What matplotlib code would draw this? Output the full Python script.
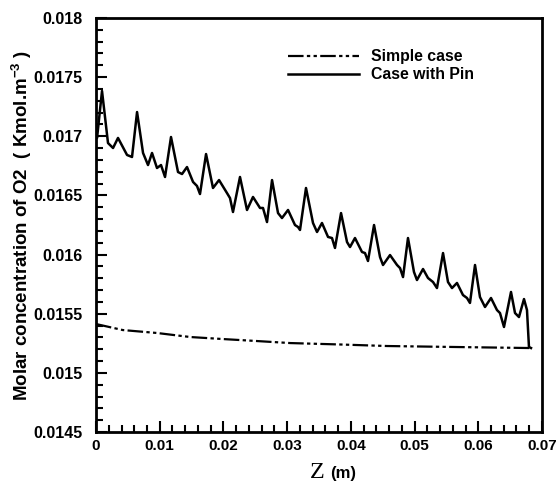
import matplotlib
matplotlib.use("Agg")
import matplotlib.pyplot as plt
from matplotlib.ticker import MultipleLocator, FormatStrFormatter

plt.rcParams["font.family"] = ["Liberation Sans", "DejaVu Sans"]
plt.rcParams["font.weight"] = "bold"
plt.rcParams["mathtext.fontset"] = "custom"
plt.rcParams["mathtext.rm"] = "Liberation Sans"
plt.rcParams["mathtext.bf"] = "Liberation Sans:bold"

# Simple case (dash-dot-dot line)
z_simple = [0, 0.0042, 0.0096, 0.0148, 0.0199, 0.0253, 0.0305, 0.0383, 0.0457, 0.0560, 0.0681]
c_simple = [0.015413, 0.015362, 0.015337, 0.015303, 0.015286, 0.015269,
            0.015252, 0.015240, 0.015227, 0.015219, 0.015210]

# Case with Pin (solid line)
z_pin = [0, 0.00016, 0.00094, 0.00188, 0.00267, 0.00345, 0.00487, 0.00565, 0.00644,
         0.00738, 0.00816, 0.00879, 0.00957, 0.0102, 0.01083, 0.01177, 0.01287, 0.0135,
         0.01428, 0.01523, 0.01585, 0.01632, 0.01727, 0.01836, 0.01931, 0.02056, 0.02103,
         0.0215, 0.0226, 0.0237, 0.02464, 0.02574, 0.02621, 0.02684, 0.02763, 0.02857,
         0.02919, 0.03014, 0.03123, 0.03171, 0.03202, 0.03296, 0.03406, 0.03469, 0.03547,
         0.03642, 0.03704, 0.03751, 0.03846, 0.0394, 0.03987, 0.04065, 0.04175, 0.04222,
         0.04269, 0.04364, 0.04458, 0.04505, 0.04615, 0.04725, 0.04772, 0.04819, 0.04897,
         0.04991, 0.05038, 0.05133, 0.05211, 0.0529, 0.05352, 0.05447, 0.05525, 0.05588,
         0.05666, 0.0576, 0.05823, 0.0587, 0.05949, 0.06027, 0.06106, 0.062, 0.06294,
         0.06341, 0.06404, 0.06514, 0.06577, 0.06639, 0.06718, 0.06765, 0.06796, 0.06828]
c_pin = [0.017011, 0.016986, 0.017383, 0.016943, 0.016901, 0.016986, 0.016842, 0.016825,
         0.017205, 0.016859, 0.016757, 0.016859, 0.016732, 0.016757, 0.016656, 0.016994,
         0.016698, 0.016681, 0.01674, 0.016614, 0.01658, 0.016512, 0.01685, 0.016563,
         0.01663, 0.01652, 0.016478, 0.01636, 0.016656, 0.016377, 0.016487, 0.016394,
         0.016394, 0.016275, 0.01663, 0.016351, 0.016309, 0.016377, 0.01625, 0.016233,
         0.016208, 0.016563, 0.016267, 0.016191, 0.016267, 0.016149, 0.01614, 0.016056,
         0.016351, 0.016106, 0.016064, 0.01614, 0.016022, 0.016013, 0.015946, 0.01625,
         0.015979, 0.015912, 0.015996, 0.015912, 0.015886, 0.01581, 0.01614, 0.015853,
         0.015785, 0.015878, 0.015802, 0.015768, 0.015717, 0.016013, 0.015768, 0.015717,
         0.01576, 0.015658, 0.015633, 0.015591, 0.015912, 0.015641, 0.015557, 0.015633,
         0.015531, 0.015506, 0.015388, 0.015684, 0.015506, 0.015472, 0.015624, 0.015531,
         0.015219, 0.01521]

fig = plt.figure(figsize=(5.57, 4.84), dpi=100)
ax = fig.add_axes([0.1724, 0.1074, 0.8006, 0.8554])

ax.plot(z_simple, c_simple, color="black", lw=1.6,
        dashes=(7, 1.5, 1.5, 1.5, 1.5, 1.5), label="Simple case")
ax.plot(z_pin, c_pin, color="black", lw=1.8, label="Case with Pin")

ax.set_xlim(0, 0.07)
ax.set_ylim(0.0145, 0.018)
ax.xaxis.set_major_locator(MultipleLocator(0.01))
ax.xaxis.set_minor_locator(MultipleLocator(0.002))
ax.yaxis.set_major_locator(MultipleLocator(0.0005))
ax.yaxis.set_minor_locator(MultipleLocator(0.0001))
ax.xaxis.set_major_formatter(FormatStrFormatter("%g"))
ax.yaxis.set_major_formatter(FormatStrFormatter("%g"))
ax.tick_params(which="both", direction="in", width=1.5)
ax.tick_params(which="major", length=8)
ax.tick_params(which="minor", length=5)
ax.tick_params(axis="x", which="major", labelsize=11, pad=5)
ax.tick_params(axis="y", which="major", labelsize=11.5, pad=10)
for s in ax.spines.values():
    s.set_linewidth(2)

ax.set_ylabel("Molar concentration of O2  ( Kmol.m$^{-3}$ )", fontsize=13.5,
              fontweight="bold")
ax.yaxis.set_label_coords(-0.14, 0.5)

fig.text(0.5835, 0.0124, "Z", family="Liberation Serif", fontweight="normal",
         fontsize=17.5, ha="right", va="baseline")
fig.text(0.5925, 0.0124, "(m)", fontsize=12, fontweight="bold", ha="left", va="baseline")

leg = ax.legend(frameon=False, loc="upper left", bbox_to_anchor=(0.4305, 0.925),
                fontsize=11.4, handlelength=4.5, handletextpad=0.75, labelspacing=0.2,
                borderpad=0, borderaxespad=0)
for t in leg.get_texts():
    t.set_fontweight("bold")

fig.savefig("out.png", dpi=100)
